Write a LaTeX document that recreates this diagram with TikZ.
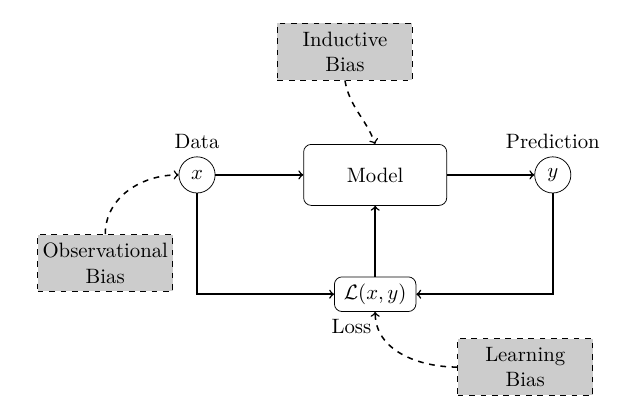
\documentclass[tikz,border=0pt,11pt]{standalone}
\usetikzlibrary{positioning}
\usepackage{amsmath, amssymb}

\begin{document}
\begin{tikzpicture}[node distance=2cm,on grid,
        var/.style={draw,circle,minimum size=0.67cm,inner sep=0pt},
        block/.style={draw,rounded corners,minimum width=2.65cm,minimum height=1.13cm},
        bias/.style={draw,dashed,fill=gray!40,align=center,minimum width=2.5cm,minimum height=1.05cm,inner sep=1pt},
        flow/.style={->,thick},
        bflow/.style={->,dashed,thick}]
        \useasboundingbox (-6.95,-4.43) rectangle (4.85,3.24);
        \node[block] (model) {Model};
        \node[var,label=above:Data] (x) [left=3.3cm of model] {$x$};
        \node[var,label=above:Prediction] (y) [right=3.29cm of model] {$y$};
        \node[draw,rounded corners,inner xsep=5pt,minimum height=0.63cm,label={[xshift=-0.44cm]below:Loss}] (loss) [below=2.21cm of model] {$\mathcal{L}(x,y)$};
        \node[bias] (ind) [above left=2.28cm and 0.56cm of model] {Inductive\\Bias};
        \node[bias] (obs) [below left=1.63cm and 1.7cm of x] {Observational\\Bias};
        \node[bias] (learn) [below right=1.35cm and 2.78cm of loss] {Learning\\Bias};
        \draw[flow] (x) -- (model);
        \draw[flow] (model) -- (y);
        \draw[flow] (x) |- (loss);
        \draw[flow] (y) |- (loss);
        \draw[flow] (loss) -- (model);
        \draw[bflow] (ind.south) to[out=-80,in=110] (model.north);
        \draw[bflow] (obs.north) to[out=90,in=180] (x.west);
        \draw[bflow] (learn.west) to[out=180,in=-90] (loss.south);
      \end{tikzpicture}
\end{document}
